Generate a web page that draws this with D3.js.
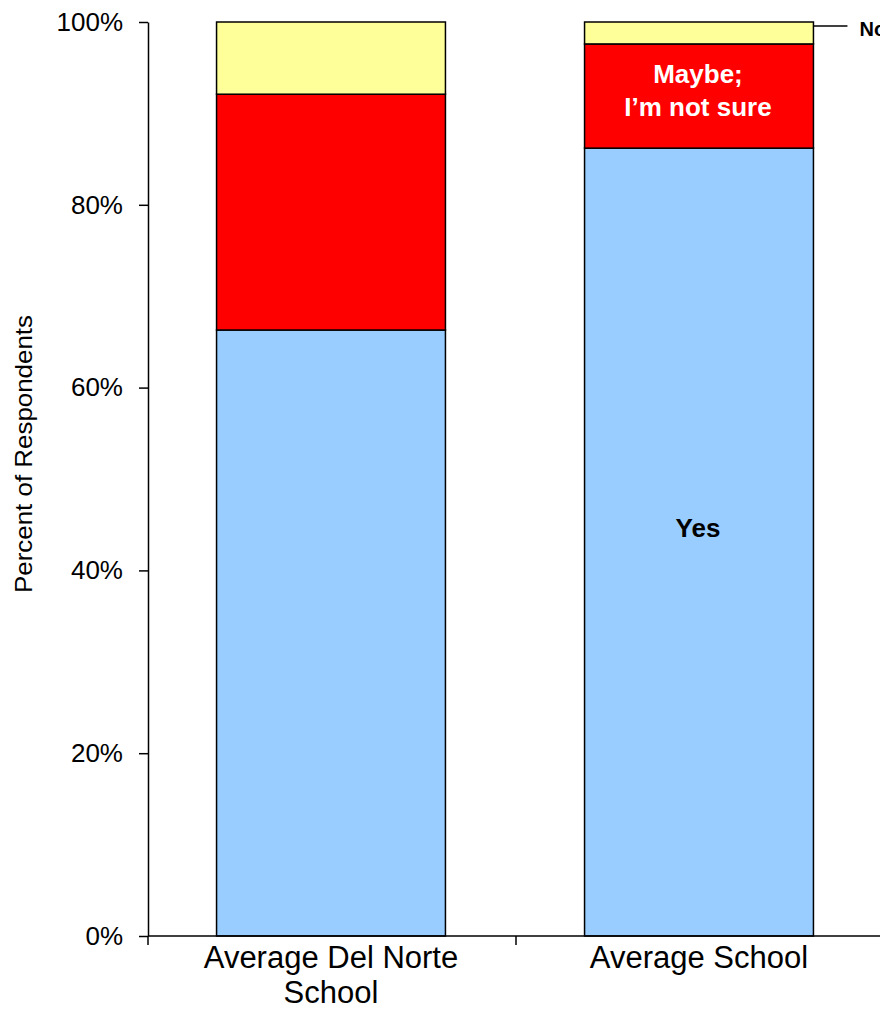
<!DOCTYPE html>
<html>
<head>
<meta charset="utf-8">
<script src="https://cdn.jsdelivr.net/npm/d3@7"></script>
<style>
  body { margin: 0; background: #fff; }
  svg text { font-family: "Liberation Sans", Arial, sans-serif; }
</style>
</head>
<body>
<div id="chart"></div>
<script>
// data
const categories = ["Average Del Norte School", "Average School"];
const categoryLines = [["Average Del Norte", "School"], ["Average School"]];
const answers = ["Yes", "Maybe", "No"];
const yesValues = [66.3, 86.2];
const maybeValues = [25.8, 11.4];
const noValues = [7.9, 2.4];
const yTicks = [0, 20, 40, 60, 80, 100];

const colors = { Yes: "#99CCFF", Maybe: "#FF0000", No: "#FFFF99" };

const width = 880, height = 1011;
const margin = { top: 22, right: -4, bottom: 75, left: 148 };

const svg = d3.select("#chart")
  .append("svg")
  .attr("width", width)
  .attr("height", height);

// rows for the stack
const rows = categories.map((c, i) => ({
  cat: c, Yes: yesValues[i], Maybe: maybeValues[i], No: noValues[i]
}));
const series = d3.stack().keys(answers)(rows);

const x = d3.scaleBand()
  .domain(categories)
  .range([margin.left, width - margin.right])
  .padding(0);
const barW = x.bandwidth() * 0.622;

const y = d3.scaleLinear()
  .domain([0, 100])
  .range([height - margin.bottom, margin.top]);

// bars
svg.append("g")
  .selectAll("g")
  .data(series)
  .join("g")
    .attr("fill", d => colors[d.key])
  .selectAll("rect")
  .data(d => d)
  .join("rect")
    .attr("x", d => x(d.data.cat) + (x.bandwidth() - barW) / 2 - 1)
    .attr("y", d => y(d[1]))
    .attr("width", barW)
    .attr("height", d => y(d[0]) - y(d[1]))
    .attr("stroke", "#000")
    .attr("stroke-width", 1.5);

// y axis
const yAxis = svg.append("g")
  .attr("transform", `translate(${margin.left},0)`)
  .call(d3.axisLeft(y)
    .tickValues(yTicks)
    .tickFormat(d => d + "%")
    .tickSize(9)
    .tickSizeOuter(0)
    .tickPadding(16));
yAxis.select(".domain").attr("stroke", "#000").attr("stroke-width", 1.5);
yAxis.selectAll(".tick line").attr("stroke", "#000").attr("stroke-width", 1.5);
yAxis.selectAll(".tick text")
  .attr("font-size", 26)
  .attr("fill", "#000")
  .style("font-family", '"Liberation Sans", Arial, sans-serif');

// x axis: line with ticks at the category boundaries
const x0 = y(0);
const xAxis = svg.append("g");
xAxis.append("line")
  .attr("x1", margin.left).attr("x2", width)
  .attr("y1", x0).attr("y2", x0)
  .attr("stroke", "#000").attr("stroke-width", 1.5);
const bounds = categories.map(c => x(c)).concat([x.range()[1]]);
xAxis.selectAll(".xtick")
  .data(bounds)
  .join("line")
    .attr("class", "xtick")
    .attr("x1", d => d).attr("x2", d => d)
    .attr("y1", x0).attr("y2", x0 + 9)
    .attr("stroke", "#000").attr("stroke-width", 1.5);

// category labels
const catText = svg.append("g")
  .selectAll("text")
  .data(categories)
  .join("text")
    .attr("text-anchor", "middle")
    .attr("font-size", 31)
    .attr("fill", "#000")
    .attr("x", d => x(d) + x.bandwidth() / 2 - 1)
    .attr("y", x0 + 32);
catText.selectAll("tspan")
  .data((d, i) => categoryLines[i])
  .join("tspan")
    .attr("x", function () { return d3.select(this.parentNode).attr("x"); })
    .attr("dy", (d, i) => i === 0 ? 0 : 35)
    .text(d => d);

// y axis title
svg.append("text")
  .attr("transform", `translate(32,${(y(0) + y(100)) / 2 - 25}) rotate(-90)`)
  .attr("text-anchor", "middle")
  .attr("font-size", 24)
  .attr("textLength", 278)
  .attr("lengthAdjust", "spacingAndGlyphs")
  .attr("fill", "#000")
  .text("Percent of Respondents");

// segment labels on the second bar
const cx = x(categories[1]) + x.bandwidth() / 2 - 2;
const yesMid = y(yesValues[1] / 2);
svg.append("text")
  .attr("x", cx).attr("y", yesMid - 5)
  .attr("text-anchor", "middle")
  .attr("font-size", 26).attr("font-weight", "bold")
  .attr("fill", "#000")
  .text("Yes");

const maybeMid = y(yesValues[1] + maybeValues[1] / 2);
const maybeText = svg.append("text")
  .attr("text-anchor", "middle")
  .attr("font-size", 26).attr("font-weight", "bold")
  .attr("fill", "#fff")
  .attr("y", maybeMid - 13);
maybeText.selectAll("tspan")
  .data(["Maybe;", "I\u2019m not sure"])
  .join("tspan")
    .attr("x", cx)
    .attr("dy", (d, i) => i === 0 ? 0 : 33)
    .text(d => d);

// "No" callout (cut off at the right edge, as in the reference)
const barRight = x(categories[1]) + (x.bandwidth() + barW) / 2 - 1;
const noY = y(100) + 4;
svg.append("line")
  .attr("x1", barRight).attr("x2", barRight + 34)
  .attr("y1", noY).attr("y2", noY)
  .attr("stroke", "#000").attr("stroke-width", 1.5);
svg.append("text")
  .attr("x", barRight + 46).attr("y", noY + 10)
  .attr("font-size", 20).attr("font-weight", "bold")
  .attr("fill", "#000")
  .text("No");
</script>
</body>
</html>
